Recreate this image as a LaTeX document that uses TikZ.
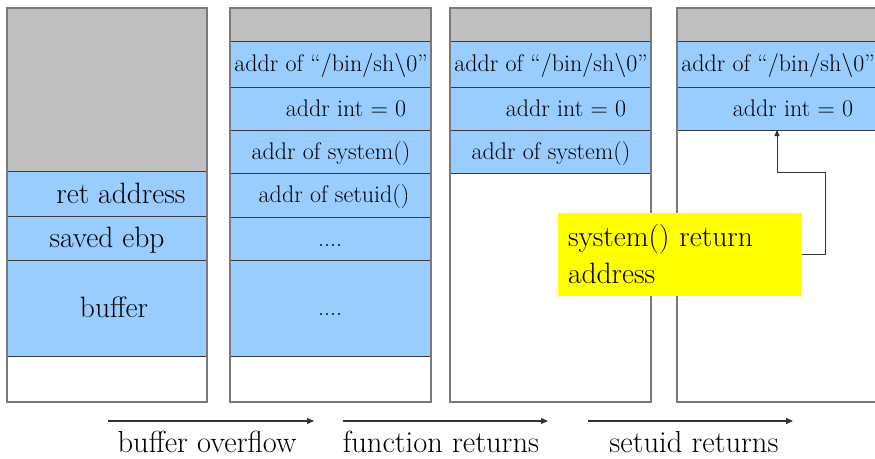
\documentclass[tikz,border=0pt]{standalone}
\usetikzlibrary{arrows.meta}
\definecolor{cellblue}{HTML}{99CCFF}
\definecolor{topgray}{HTML}{C0C0C0}
\definecolor{sepcol}{HTML}{3A3A3A}
\definecolor{outcol}{HTML}{7A7A7A}
\definecolor{noteyellow}{HTML}{FFFF00}
\begin{document}
\begin{tikzpicture}[x=1pt,y=-1pt,
  cell/.style={fill=cellblue, draw=sepcol, line width=1pt},
  topcell/.style={fill=topgray, draw=none},
  outline/.style={draw=outcol, line width=1.5pt},
  big/.style={font=\fontsize{29.5}{35}\selectfont, text height=22pt, text depth=3pt, inner sep=0pt},
  label/.style={font=\fontsize{30.5}{36}\selectfont, text height=23pt, text depth=4pt, inner sep=0pt},
  small/.style={font=\fontsize{24}{29}\selectfont, text height=18.5pt, text depth=3pt, inner sep=0pt},
  conn/.style={draw=black!80, line width=1pt, -{Triangle[length=6pt,width=5pt]}},
  flow/.style={draw=black!80, line width=1.2pt, -{Triangle[length=7pt,width=6pt]}},
  note/.style={fill=noteyellow, draw=none, minimum width=244pt, minimum height=83pt, inner xsep=10pt, text width=224pt, align=left, font=\fontsize{29.5}{37}\selectfont}
]
\useasboundingbox (0,0) rectangle (875,458);
\clip (0,0) rectangle (875,458);
% ---------- column 1 ----------
\path[topcell] (7,8) rectangle (207,171);
\path[cell] (7,171) rectangle (207,216);
\path[cell] (7,216) rectangle (207,260);
\path[cell] (7,260) rectangle (207,356);
\draw[outline] (7,8) rectangle (207,402);
\node[big] (c1a) at (121,193.5) {ret address};
\node[big] (c1b) at (107,238) {saved ebp};
\node[big] (c1c) at (114,308) {buffer};
% ---------- column 2 ----------
\path[topcell] (230,8) rectangle (431,41);
\path[cell] (230,41) rectangle (431,87);
\path[cell] (230,87) rectangle (431,130);
\path[cell] (230,130) rectangle (431,173);
\path[cell] (230,173) rectangle (431,217);
\path[cell] (230,217) rectangle (431,260);
\path[cell] (230,260) rectangle (431,356);
\draw[outline] (230,8) rectangle (431,402);
\node[small] (c2a) at (331,64) {addr of “/bin/sh\textbackslash 0”};
\node[small] (c2b) at (346,108.5) {addr int = 0};
\node[small] (c2c) at (331,151.5) {addr of system()};
\node[small] (c2d) at (334,195) {addr of setuid()};
\node[small] (c2e) at (330,238.5) {....};
\node[small] (c2f) at (330,308) {....};
% ---------- column 3 ----------
\path[topcell] (450,8) rectangle (651,41);
\path[cell] (450,41) rectangle (651,87);
\path[cell] (450,87) rectangle (651,130);
\path[cell] (450,130) rectangle (651,173);
\draw[outline] (450,8) rectangle (651,402);
\node[small] (c3a) at (551,64) {addr of “/bin/sh\textbackslash 0”};
\node[small] (c3b) at (566,108.5) {addr int = 0};
\node[small] (c3c) at (551,151.5) {addr of system()};
% ---------- column 4 ----------
\path[topcell] (677,8) rectangle (877,41);
\path[cell] (677,41) rectangle (877,87);
\node[cell, minimum width=200pt, minimum height=43pt, inner sep=0pt, outer sep=0pt] (c4row) at (777,108.5) {};
\draw[outline] (677,8) rectangle (877,402);
\node[small] (c4a) at (778,64) {addr of “/bin/sh\textbackslash 0”};
\node[small] (c4b) at (793,108.5) {addr int = 0};
% ---------- note ----------
\node[note] (yel) at (680,254.5) {system() return\\address};
\coordinate (k1) at (825,254.5);
\coordinate (k2) at (825,172);
\draw[conn] (yel.east) -- (k1) -- (k2) -| (c4row.south);
% ---------- bottom flow ----------
\coordinate (f1s) at (108,421);
\coordinate (f1e) at (314,421);
\coordinate (f2s) at (343,421);
\coordinate (f2e) at (548,421);
\coordinate (f3s) at (588,421);
\coordinate (f3e) at (793,421);
\draw[flow] (f1s) -- (f1e);
\draw[flow] (f2s) -- (f2e);
\draw[flow] (f3s) -- (f3e);
\node[label] (l1) at (207,443) {buffer overflow};
\node[label] (l2) at (441,443) {function returns};
\node[label] (l3) at (694,443) {setuid returns};
\end{tikzpicture}
\end{document}
